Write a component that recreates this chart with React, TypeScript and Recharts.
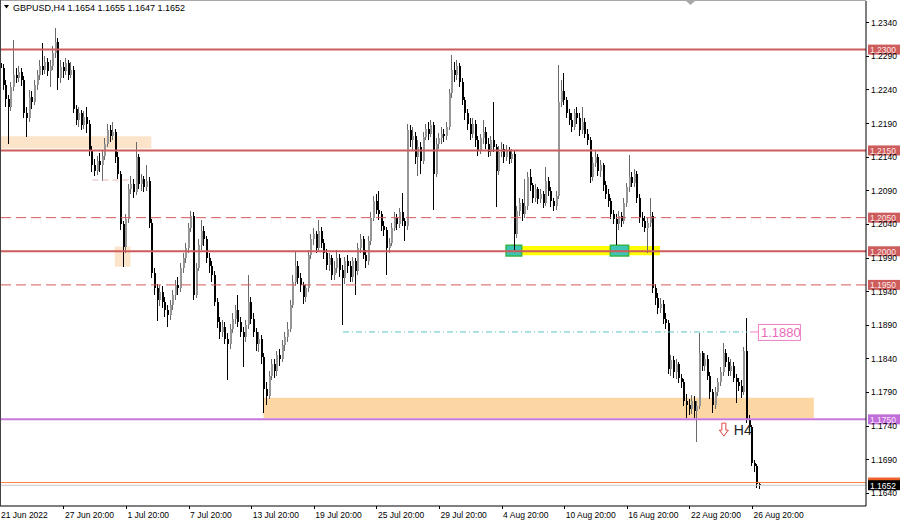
import React from "react";
import { ComposedChart, Bar, XAxis, YAxis, ReferenceLine, ReferenceArea, ReferenceDot } from "recharts";

// GBPUSD H4, 21 Jun - 29 Aug 2022
const firstOpen = 1.228;

const closes = [
  1.2272, 1.2248, 1.2226, 1.2215, 1.2245, 1.2262, 1.2258, 1.2266, 1.2255, 1.2205, 1.2198, 1.223, 1.2222, 1.2248, 1.2262, 1.2275, 1.227, 1.2282, 1.2268, 1.2276, 1.2295, 1.2312, 1.2258, 1.2274,
  1.2268, 1.228, 1.2262, 1.227, 1.2212, 1.2195, 1.2205, 1.2188, 1.22, 1.219, 1.215, 1.2128, 1.212, 1.2135, 1.2128, 1.2142, 1.216, 1.218, 1.2172, 1.2178, 1.214, 1.2115, 1.204, 1.2007,
  1.2048, 1.2092, 1.21, 1.2088, 1.214, 1.21, 1.2108, 1.2095, 1.2105, 1.2042, 1.1968, 1.1945, 1.1928, 1.194, 1.1925, 1.1912, 1.1905, 1.192, 1.1935, 1.195, 1.1945, 1.1975, 1.199, 1.2005,
  1.2035, 1.2052, 1.1935, 1.1975, 1.201, 1.203, 1.2018, 1.199, 1.1978, 1.1965, 1.1925, 1.1895, 1.188, 1.1888, 1.187, 1.1862, 1.1885, 1.19, 1.1912, 1.1895, 1.188, 1.1872, 1.189, 1.1925,
  1.19, 1.188, 1.1862, 1.187, 1.1842, 1.1795, 1.1785, 1.1815, 1.1832, 1.1822, 1.1845, 1.184, 1.186, 1.1872, 1.1885, 1.192, 1.1955, 1.1978, 1.196, 1.195, 1.1932, 1.1945, 1.1995, 1.2018,
  1.2025, 1.2005, 1.203, 1.2012, 1.1998, 1.198, 1.199, 1.1965, 1.1975, 1.199, 1.1972, 1.196, 1.1985, 1.1978, 1.1962, 1.1985, 1.197, 1.2005, 1.2018, 1.1995, 1.1985, 1.2015, 1.205, 1.2075,
  1.2062, 1.2055, 1.2038, 1.2032, 1.2005, 1.2012, 1.2035, 1.205, 1.204, 1.2058, 1.2045, 1.2038, 1.218, 1.2165, 1.2172, 1.214, 1.2155, 1.2135, 1.217, 1.2182, 1.2175, 1.2188, 1.2115, 1.216,
  1.2168, 1.2175, 1.2172, 1.2185, 1.2235, 1.227, 1.2262, 1.2275, 1.2252, 1.2225, 1.2205, 1.219, 1.2175, 1.219, 1.2165, 1.215, 1.2168, 1.2178, 1.216, 1.2148, 1.2165, 1.2155, 1.212, 1.2148,
  1.2152, 1.214, 1.215, 1.2138, 1.2145, 1.2025, 1.206, 1.2072, 1.2055, 1.2068, 1.211, 1.2098, 1.208, 1.2092, 1.2078, 1.2085, 1.2072, 1.2105, 1.209, 1.2075, 1.2068, 1.2082, 1.2222, 1.2238,
  1.2225, 1.2205, 1.2195, 1.2185, 1.2205, 1.2198, 1.218, 1.2192, 1.2175, 1.2165, 1.211, 1.2132, 1.214, 1.212, 1.2128, 1.2098, 1.2085, 1.2075, 1.2055, 1.2048, 1.204, 1.2052, 1.2045, 1.2072,
  1.2095, 1.211, 1.2102, 1.2115, 1.208, 1.205, 1.2045, 1.2035, 1.2042, 1.2052, 1.1945, 1.193, 1.1915, 1.1922, 1.19, 1.1893, 1.1825, 1.1838, 1.182, 1.1832, 1.1812, 1.1805, 1.1778, 1.1772,
  1.1765, 1.1778, 1.1762, 1.177, 1.1848, 1.183, 1.184, 1.1815, 1.179, 1.1772, 1.179, 1.1805, 1.182, 1.1848, 1.1835, 1.1822, 1.183, 1.1812, 1.1805, 1.18, 1.179, 1.1852, 1.175, 1.1738, 1.1685, 1.168, 1.1654, 1.1652,
];

const highs = [
  1.2288, 1.2278, 1.2255, 1.2232, 1.2252, 1.2314, 1.2272, 1.2275, 1.2272, 1.226, 1.2215, 1.224, 1.2238, 1.2255, 1.227, 1.2284, 1.231, 1.229, 1.2288, 1.2284, 1.2305, 1.2332, 1.2318, 1.2285,
  1.2282, 1.2288, 1.2285, 1.2282, 1.2275, 1.2218, 1.2215, 1.221, 1.2208, 1.2215, 1.2195, 1.2156, 1.2138, 1.2142, 1.2146, 1.215, 1.2168, 1.219, 1.2188, 1.2192, 1.2182, 1.2148, 1.212, 1.2045,
  1.2055, 1.21, 1.2112, 1.2108, 1.2162, 1.2145, 1.2115, 1.2112, 1.2128, 1.211, 1.2048, 1.1975, 1.1952, 1.195, 1.1948, 1.1932, 1.192, 1.1928, 1.1942, 1.1958, 1.1962, 1.1982, 1.1998, 1.2012,
  1.2042, 1.206, 1.2058, 1.1982, 1.2018, 1.2046, 1.2038, 1.2022, 1.1998, 1.1985, 1.197, 1.193, 1.1902, 1.1898, 1.1895, 1.1878, 1.1892, 1.1908, 1.192, 1.1935, 1.1902, 1.1888, 1.1898, 1.1965,
  1.1932, 1.1908, 1.1886, 1.188, 1.1876, 1.1848, 1.1805, 1.1822, 1.184, 1.184, 1.1852, 1.1855, 1.1868, 1.188, 1.1895, 1.1928, 1.1965, 1.2, 1.1985, 1.1968, 1.1955, 1.1952, 1.2002, 1.2025,
  1.2035, 1.203, 1.2046, 1.2036, 1.2018, 1.2004, 1.1998, 1.1995, 1.1985, 1.2002, 1.1996, 1.198, 1.1992, 1.1995, 1.1985, 1.1992, 1.199, 1.2012, 1.2025, 1.2022, 1.2002, 1.2022, 1.2058, 1.2082,
  1.2085, 1.209, 1.206, 1.2045, 1.2036, 1.202, 1.2042, 1.2058, 1.2055, 1.2065, 1.2086, 1.205, 1.219, 1.2188, 1.2185, 1.2178, 1.2165, 1.2162, 1.2178, 1.219, 1.2192, 1.2196, 1.2192, 1.2168,
  1.2176, 1.2185, 1.2182, 1.2192, 1.2242, 1.2292, 1.2282, 1.2285, 1.228, 1.2258, 1.223, 1.2212, 1.2198, 1.2198, 1.2195, 1.2172, 1.2175, 1.2195, 1.2185, 1.2168, 1.2172, 1.2222, 1.216, 1.2156,
  1.2162, 1.216, 1.2158, 1.2155, 1.2152, 1.215, 1.2068, 1.208, 1.2078, 1.2108, 1.2118, 1.2122, 1.2102, 1.21, 1.2096, 1.2092, 1.209, 1.2125, 1.211, 1.2095, 1.208, 1.209, 1.2277, 1.2255,
  1.2265, 1.223, 1.2212, 1.2205, 1.2212, 1.2215, 1.2205, 1.2215, 1.2198, 1.2182, 1.217, 1.214, 1.215, 1.2145, 1.2136, 1.2132, 1.2105, 1.2092, 1.208, 1.2062, 1.2055, 1.206, 1.2058, 1.208,
  1.2102, 1.2143, 1.2118, 1.2122, 1.212, 1.2085, 1.2058, 1.2052, 1.205, 1.208, 1.2058, 1.1952, 1.1938, 1.193, 1.1928, 1.1908, 1.1898, 1.1846, 1.1844, 1.184, 1.1836, 1.1818, 1.181, 1.1788,
  1.178, 1.1786, 1.1784, 1.1778, 1.1878, 1.1852, 1.1848, 1.1845, 1.182, 1.1795, 1.1798, 1.1812, 1.1828, 1.1863, 1.1855, 1.1842, 1.184, 1.1835, 1.1818, 1.1812, 1.1808, 1.1858, 1.1901, 1.1756, 1.1742, 1.169, 1.1684, 1.1655,
];

const lows = [
  1.2262, 1.224, 1.2215, 1.216, 1.2208, 1.2238, 1.225, 1.2252, 1.2246, 1.2198, 1.217, 1.2192, 1.2212, 1.2218, 1.224, 1.2255, 1.2262, 1.2264, 1.226, 1.2245, 1.227, 1.2288, 1.224, 1.225,
  1.2258, 1.2262, 1.2255, 1.2258, 1.2205, 1.2188, 1.2185, 1.218, 1.2182, 1.2176, 1.2142, 1.2118, 1.2112, 1.2114, 1.2118, 1.2105, 1.2136, 1.2155, 1.2162, 1.2165, 1.2132, 1.2108, 1.2032, 1.1977,
  1.1998, 1.2042, 1.2085, 1.208, 1.2084, 1.2092, 1.209, 1.2088, 1.209, 1.2035, 1.196, 1.1935, 1.1897, 1.1918, 1.1915, 1.1902, 1.1887, 1.1898, 1.1912, 1.1928, 1.1935, 1.194, 1.1968, 1.1982,
  1.1998, 1.2028, 1.1928, 1.193, 1.197, 1.2002, 1.2008, 1.1982, 1.1968, 1.1955, 1.1918, 1.1886, 1.187, 1.1872, 1.1862, 1.1808, 1.1855, 1.1878, 1.1892, 1.1888, 1.1872, 1.1828, 1.1865, 1.1885,
  1.1892, 1.1872, 1.1852, 1.185, 1.1832, 1.1759, 1.1772, 1.178, 1.1808, 1.1812, 1.1815, 1.183, 1.1835, 1.1852, 1.1865, 1.188, 1.1915, 1.1948, 1.1952, 1.194, 1.1922, 1.1925, 1.194, 1.1988,
  1.201, 1.1998, 1.2, 1.2005, 1.1988, 1.1972, 1.197, 1.1958, 1.1957, 1.1968, 1.1962, 1.189, 1.1952, 1.1968, 1.1955, 1.1955, 1.1935, 1.1965, 1.1998, 1.1988, 1.1975, 1.198, 1.201, 1.2045,
  1.2055, 1.2046, 1.203, 1.2022, 1.1965, 1.1998, 1.2008, 1.203, 1.2032, 1.2035, 1.2038, 1.2015, 1.2032, 1.2155, 1.215, 1.213, 1.2112, 1.2115, 1.213, 1.2165, 1.2166, 1.217, 1.2061, 1.211,
  1.2152, 1.216, 1.2162, 1.2166, 1.218, 1.2228, 1.2252, 1.2255, 1.2245, 1.2218, 1.2196, 1.218, 1.2166, 1.2168, 1.2155, 1.2142, 1.2145, 1.216, 1.2152, 1.214, 1.2142, 1.2148, 1.2066, 1.2114,
  1.214, 1.2132, 1.2135, 1.213, 1.2132, 1.2002, 1.202, 1.2052, 1.2045, 1.205, 1.2062, 1.209, 1.2072, 1.2074, 1.207, 1.2072, 1.2065, 1.2068, 1.2082, 1.2066, 1.206, 1.2062, 1.2078, 1.2215,
  1.2218, 1.2198, 1.2188, 1.2178, 1.218, 1.219, 1.2172, 1.2175, 1.2168, 1.2158, 1.2102, 1.2105, 1.2125, 1.2112, 1.211, 1.209, 1.2078, 1.2066, 1.2048, 1.204, 1.2009, 1.2032, 1.2036, 1.204,
  1.2066, 1.2088, 1.2095, 1.2096, 1.2072, 1.2042, 1.2036, 1.2028, 1.1997, 1.2036, 1.1938, 1.192, 1.1906, 1.1908, 1.1892, 1.1885, 1.1818, 1.1815, 1.1812, 1.181, 1.1804, 1.1796, 1.177, 1.1752,
  1.1756, 1.1758, 1.1752, 1.1716, 1.1765, 1.1822, 1.1822, 1.1808, 1.178, 1.176, 1.1766, 1.1785, 1.18, 1.1815, 1.1828, 1.1815, 1.1814, 1.1805, 1.1775, 1.1792, 1.1782, 1.1786, 1.1745, 1.1732, 1.168, 1.1672, 1.1648, 1.1647,
];

// empty slots to the right of the last bar (chart shift)
const slotCount = 332;

const timeTicks = [0, 24, 48, 72, 96, 120, 144, 168, 192, 216, 240, 264, 288];
const timeLabels = [
  "21 Jun 2022", "27 Jun 20:00", "1 Jul 20:00", "7 Jul 20:00", "13 Jul 20:00", "19 Jul 20:00", "25 Jul 20:00",
  "29 Jul 20:00", "4 Aug 20:00", "10 Aug 20:00", "16 Aug 20:00", "22 Aug 20:00", "26 Aug 20:00",
];

const priceTicks = [1.164, 1.169, 1.174, 1.179, 1.184, 1.189, 1.194, 1.199, 1.204, 1.209, 1.214, 1.219, 1.224, 1.229, 1.234];
const priceDomain = [1.16211, 1.23723];

const solidLevels = [1.23, 1.215, 1.2];
const dashedLevels = [1.205, 1.195];
const supportLevel = 1.175;
const bidPrice = 1.1652;
const askPrice = 1.1656;
const targetLevel = 1.188;

// rectangles: [fromBar, toBar, lowPrice, highPrice]
const paleZones = [
  [0, 57, 1.2153, 1.2171],
  [44, 49, 1.1977, 1.2007],
];
const demandZone = [101, 311, 1.1752, 1.1782];
const yellowZone = [194, 252, 1.1994, 1.2008];
const touchBoxes = [
  [194, 199, 1.1993, 1.2009],
  [234, 240, 1.1993, 1.2009],
];
const targetSegment = [131, 286];
const faintSegment = [35, 49, 1.2106];
const signalBar = 277;
const signalPrice = 1.1734;
const targetTagBar = 287;

const FONT = "Liberation Sans, Arial, sans-serif";

const data = Array.from({ length: slotCount }, (_, i) => {
  if (i >= closes.length) return { i };
  const o = i === 0 ? firstOpen : closes[i - 1];
  return { i, o, h: highs[i], l: lows[i], c: closes[i], r: [lows[i], highs[i]] };
});

const Candle = (props: any) => {
  const { x, y, width, height, payload } = props;
  if (!payload || payload.c == null) return null;
  const { o, h, l, c } = payload;
  const mid = Math.round(x + width / 2);
  const k = h === l ? 0 : height / (h - l);
  const yo = y + (h - o) * k;
  const yc = y + (h - c) * k;
  const up = c >= o;
  const top = Math.min(yo, yc);
  const bh = Math.max(1, Math.abs(yc - yo));
  return (
    <g shapeRendering="crispEdges">
      <line x1={mid - 0.5} x2={mid - 0.5} y1={y} y2={y + height} stroke={up ? "#6a6a6a" : "#000"} strokeWidth={1} />
      <rect x={mid - 1} y={top} width={2} height={bh} fill={up ? "#969696" : "#000"} />
    </g>
  );
};

const TimeTick = (props: any) => {
  const { x, y, payload } = props;
  const k = timeTicks.indexOf(payload.value);
  const first = payload.value === 0;
  return (
    <g>
      {!first && <line x1={x} x2={x} y1={y} y2={y + 3} stroke="#000" shapeRendering="crispEdges" />}
      <text x={first ? 1 : x + 1} y={y + 12} fontSize={8.5} fontFamily={FONT} fill="#000">
        {timeLabels[k]}
      </text>
    </g>
  );
};

const PriceTick = (props: any) => {
  const { x, y, payload } = props;
  return (
    <g>
      <line x1={x} x2={x + 3} y1={y} y2={y} stroke="#000" shapeRendering="crispEdges" />
      <text x={x + 5} y={y + 3} fontSize={8.5} fontFamily={FONT} fill="#000">
        {payload.value.toFixed(4)}
      </text>
    </g>
  );
};

const axisTag = (text: string, bg: string, fg: string) => (p: any) => {
  const vb = p.viewBox;
  const x = vb.x + vb.width;
  return (
    <g>
      <rect x={x + 2} y={vb.y - 5} width={36} height={10} fill={bg} />
      <text x={x + 4} y={vb.y + 3.5} fontSize={8.5} fontFamily={FONT} fill={fg}>
        {text}
      </text>
    </g>
  );
};

const TargetTag = (props: any) => {
  const { cx, cy } = props;
  return (
    <g>
      <line x1={cx} x2={cx + 8} y1={cy} y2={cy} stroke="#f080c8" />
      <rect x={cx + 8.5} y={cy - 7.5} width={42} height={16} fill="#fff" stroke="#f080c8" />
      <text x={cx + 11} y={cy + 5} fontSize={13} fontFamily={FONT} fill="#ea6ab8">
        1.1880
      </text>
    </g>
  );
};

const SignalMark = (props: any) => {
  const { cx, cy } = props;
  return (
    <g>
      <path
        d={`M${cx - 2} ${cy - 7} H${cx + 2} V${cy} H${cx + 4.5} L${cx} ${cy + 6} L${cx - 4.5} ${cy} H${cx - 2} Z`}
        fill="#fff"
        stroke="#e04848"
      />
      <text x={cx + 10} y={cy + 5} fontSize={14} fontFamily={FONT} fill="#222">
        H4
      </text>
    </g>
  );
};

export default function App() {
  return (
    <div style={{ position: "absolute", left: 0, top: 0, width: 900, height: 521, background: "#fff", overflow: "hidden" }}>
      <ComposedChart width={900} height={521} data={data} margin={{ top: 1, right: 0, bottom: 0, left: 0 }}>
        <XAxis
          dataKey="i"
          type="category"
          ticks={timeTicks}
          interval={0}
          height={15}
          tickSize={0}
          tickMargin={0}
          tickLine={false}
          axisLine={{ stroke: "#000" }}
          tick={<TimeTick />}
        />
        <YAxis
          orientation="right"
          type="number"
          domain={priceDomain}
          allowDataOverflow
          ticks={priceTicks}
          width={34}
          tickSize={0}
          tickMargin={0}
          tickLine={false}
          axisLine={{ stroke: "#000" }}
          tick={<PriceTick />}
        />
        {paleZones.map((z, n) => (
          <ReferenceArea key={`pz${n}`} x1={z[0]} x2={z[1]} y1={z[2]} y2={z[3]} fill="#fbe4c9" fillOpacity={1} stroke="none" />
        ))}
        <ReferenceArea x1={demandZone[0]} x2={demandZone[1]} y1={demandZone[2]} y2={demandZone[3]} fill="#fcd7a4" fillOpacity={1} stroke="none" />
        <ReferenceArea x1={yellowZone[0]} x2={yellowZone[1]} y1={yellowZone[2]} y2={yellowZone[3]} fill="#ffff00" fillOpacity={1} stroke="none" />
        {dashedLevels.map((v) => (
          <ReferenceLine key={`d${v}`} y={v} stroke="#d65a5a" strokeDasharray="10 5" label={axisTag(v.toFixed(4), "#cd5c5c", "#fde8e8")} />
        ))}
        {solidLevels.map((v) => (
          <ReferenceLine key={`s${v}`} y={v} stroke="#cd5c5c" strokeWidth={2} label={axisTag(v.toFixed(4), "#cd5c5c", "#fde8e8")} />
        ))}
        <ReferenceLine y={supportLevel} stroke="#c878dc" strokeWidth={2} label={axisTag(supportLevel.toFixed(4), "#c06ed8", "#fbeaff")} />
        <ReferenceLine
          segment={[{ x: faintSegment[0], y: faintSegment[2] }, { x: faintSegment[1], y: faintSegment[2] }]}
          stroke="#eab8b8"
          strokeDasharray="6 4"
        />
        <ReferenceLine
          segment={[{ x: targetSegment[0], y: targetLevel }, { x: targetSegment[1], y: targetLevel }]}
          stroke="#5cc4c4"
          strokeDasharray="6 3 1 3"
        />
        <ReferenceLine y={askPrice} stroke="#ff7f3f" label={axisTag("", "#f0602a", "#fff")} />
        <ReferenceLine y={bidPrice} stroke="#c8c8c8" label={axisTag(bidPrice.toFixed(4), "#000", "#fff")} />
        <Bar dataKey="r" barSize={2} shape={<Candle />} isAnimationActive={false} />
        {touchBoxes.map((z, n) => (
          <ReferenceArea key={`tb${n}`} x1={z[0]} x2={z[1]} y1={z[2]} y2={z[3]} fill="#3ec4b4" fillOpacity={1} stroke="#34b44a" strokeWidth={1.5} />
        ))}
        <ReferenceDot x={targetTagBar} y={targetLevel} r={0} shape={<TargetTag />} />
        <ReferenceDot x={signalBar} y={signalPrice} r={0} shape={<SignalMark />} />
      </ComposedChart>
      <div style={{ position: "absolute", left: 0, top: 0, width: 866, height: 1, background: "#a8a8a8" }} />
      <div style={{ position: "absolute", left: 0, top: 0, width: 1, height: 506, background: "#444" }} />
      <svg style={{ position: "absolute", left: 0, top: 0 }} width={900} height={16}>
        <polygon points="4,5 9,5 6.5,8.5" fill="#000" />
        <polygon points="686,1 695,1 690.5,5" fill="#a8a8a8" />
        <text x={13} y={11} fontSize={9} fontFamily={FONT} fill="#000">
          GBPUSD,H4  1.1654 1.1655 1.1647 1.1652
        </text>
      </svg>
    </div>
  );
}
